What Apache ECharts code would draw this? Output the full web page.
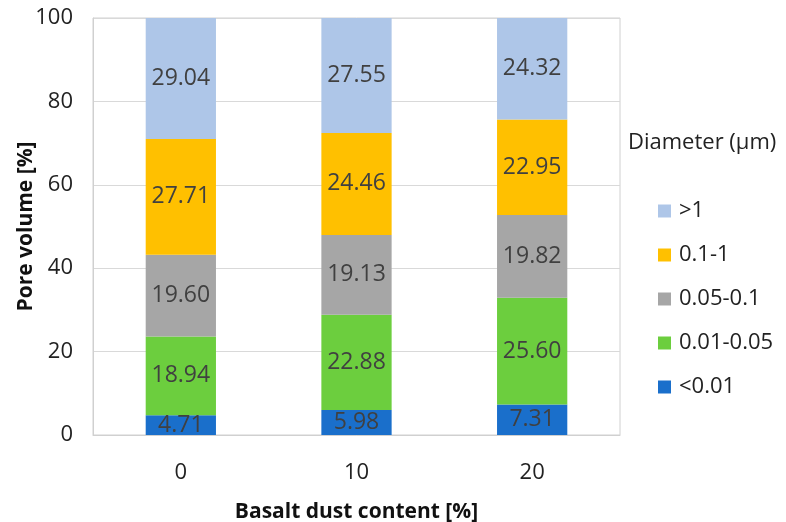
<!DOCTYPE html>
<html><head><meta charset="utf-8">
<script src="https://cdn.jsdelivr.net/npm/echarts@6/dist/echarts.min.js"></script>
<style>html,body{margin:0;padding:0;background:#fff}#c{width:786px;height:522px}</style>
</head><body><div id="c"></div>
<script>
const categories = ['0', '10', '20'];
const seriesNames = ['<0.01', '0.01-0.05', '0.05-0.1', '0.1-1', '>1'];
const v_lt001 = [4.71, 5.98, 7.31];
const v_001_005 = [18.94, 22.88, 25.60];
const v_005_01 = [19.60, 19.13, 19.82];
const v_01_1 = [27.71, 24.46, 22.95];
const v_gt1 = [29.04, 27.55, 24.32];
const yTicks = [0, 20, 40, 60, 80, 100];
const colors = ['#1A6FCB', '#6CCE3E', '#A6A6A6', '#FFC000', '#AEC6E8'];
const values = [v_lt001, v_001_005, v_005_01, v_01_1, v_gt1];
const FONT = 'Open Sans';

const chart = echarts.init(document.getElementById('c'));
chart.setOption({
  animation: false,
  textStyle: {fontFamily: FONT},
  grid: {left: 93, right: 166, top: 18, bottom: 87, show: true, borderColor: '#D0D0D0', borderWidth: 1,
         containLabel: false, outerBoundsMode: 'none'},
  xAxis: {
    type: 'category', data: categories,
    axisLine: {lineStyle: {color: '#D0D0D0'}},
    axisTick: {show: false},
    axisLabel: {fontSize: 22, color: '#222', margin: 27, fontFamily: FONT},
    name: 'Basalt dust content [%]', nameLocation: 'middle', nameGap: 67, nameMoveOverlap: false,
    nameTextStyle: {fontSize: 21, fontWeight: 'bold', color: '#111', fontFamily: FONT}
  },
  yAxis: {
    type: 'value', min: yTicks[0], max: yTicks[yTicks.length - 1], interval: 20,
    axisLine: {show: true, lineStyle: {color: '#D0D0D0'}},
    axisTick: {show: false},
    splitLine: {lineStyle: {color: '#D9D9D9'}},
    axisLabel: {fontSize: 22, color: '#222', margin: 20, fontFamily: FONT},
    name: 'Pore volume [%]', nameLocation: 'middle', nameGap: 56, nameRotate: 90, nameMoveOverlap: false,
    nameTextStyle: {fontSize: 21, fontWeight: 'bold', color: '#111', fontFamily: FONT}
  },
  legend: {
    orient: 'vertical', left: 653, top: 195,
    data: seriesNames.slice().reverse(),
    itemWidth: 13, itemHeight: 13, itemGap: 22,
    icon: 'rect',
    textStyle: {fontSize: 22, color: '#222', fontFamily: FONT, padding: [0, 0, 0, 3]}
  },
  graphic: [{
    type: 'text', left: 628, top: 132,
    style: {text: 'Diameter (\u00b5m)', fontSize: 22, fill: '#222', fontFamily: FONT}
  }],
  series: seriesNames.map((n, i) => ({
    name: n, type: 'bar', stack: 'total', data: values[i],
    barWidth: '40%',
    itemStyle: {color: colors[i]},
    label: {show: true, position: 'inside', fontSize: 23, color: '#404040', fontFamily: FONT,
            formatter: p => p.value.toFixed(2)}
  }))
});
</script></body></html>
